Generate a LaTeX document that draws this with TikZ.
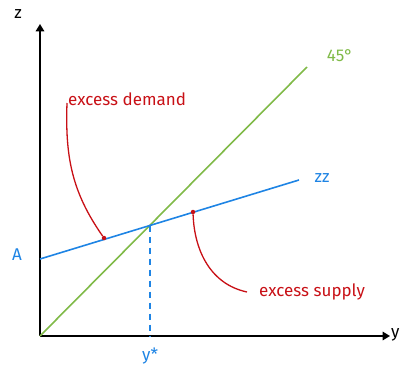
\documentclass[tikz,border=0pt]{standalone}
\usepackage{fontspec}
\setmainfont{Fira Sans}
\usetikzlibrary{arrows.meta, positioning}

\definecolor{zzblue}{RGB}{30,132,228}
\definecolor{fortyfive}{RGB}{128,186,72}
\definecolor{excred}{RGB}{200,16,22}

\begin{document}
\begin{tikzpicture}[
		x=1pt, y=1pt,
		axis/.style={-Triangle, line width=1.6pt},
		zzline/.style={zzblue, line width=1.6pt},
		diag/.style={fortyfive, line width=1.6pt},
		pointer/.style={excred, line width=1.3pt},
		mark dot/.style={circle, fill=excred, inner sep=0pt, minimum size=4.5pt},
		lbl/.style={font=\fontsize{17}{20}\selectfont, inner sep=1pt}
		]
		\useasboundingbox (0,0) rectangle (400,376);
		
		% axes
		\coordinate (O) at (40,40);
		\coordinate (Ztip) at (40,352);
		\coordinate (Ytip) at (390,40);
		\draw[axis] (O) -- (Ztip);
		\draw[axis] (O) -- (Ytip);
		\node[lbl] (Zlab) at (18,362) {z};
		\node[lbl, anchor=west] (Ylab) at (390,41) {y};
		
		% 45 degree line
		\coordinate (Dend) at (307,309);
		\draw[diag] (O) -- (Dend);
		\node[lbl, fortyfive] (Dlab) at (340,320) {45°};
		
		% ZZ line
		\coordinate (Zstart) at (40,117);
		\coordinate (Zend) at (299,196);
		\draw[zzline] (Zstart) -- (Zend);
		\node[lbl, zzblue] (Alab) at (17,121) {A};
		\node[lbl, zzblue] (ZZlab) at (322,198) {zz};
		
		% equilibrium
		\coordinate (E) at (150,150.5);
		\coordinate (Ebase) at (150,40);
		\draw[zzblue, line width=1.4pt, dash pattern=on 6pt off 5pt] (E) -- (Ebase);
		\node[lbl, zzblue] (Ystar) at (150,20) {y*};
		
		% excess demand
		\node[mark dot] (dDot) at (104,138) {};
		\coordinate (dTop) at (67,273);
		\draw[pointer] (dDot) to[out=125, in=-92] (dTop);
		\node[lbl, excred, anchor=west] (dLab) at (67,277) {excess demand};
		
		% excess supply
		\node[mark dot] (sDot) at (193,164) {};
		\coordinate (sEnd) at (247,84);
		\draw[pointer] (sDot) to[out=-88, in=168] (sEnd);
		\node[lbl, excred, anchor=west] (sLab) at (258,84) {excess supply};
		
	\end{tikzpicture}
\end{document}
